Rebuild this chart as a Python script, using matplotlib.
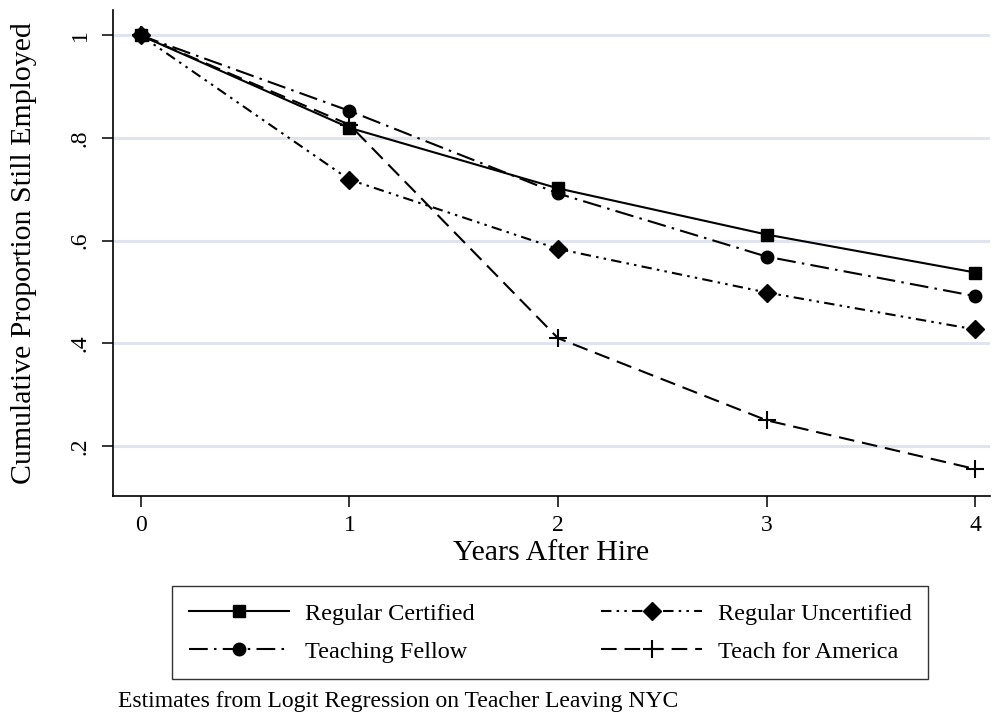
import matplotlib.pyplot as plt

# cumulative retention by pathway into teaching
years = [0, 1, 2, 3, 4]
regular_certified = [1.0, 0.820, 0.702, 0.612, 0.538]
regular_uncertified = [1.0, 0.719, 0.584, 0.499, 0.427]
teaching_fellow = [1.0, 0.853, 0.692, 0.569, 0.492]
teach_for_america = [1.0, 0.826, 0.410, 0.250, 0.155]

y_ticks = [0.2, 0.4, 0.6, 0.8, 1.0]
y_tick_labels = [".2", ".4", ".6", ".8", "1"]

plt.rcParams["font.family"] = ["Liberation Serif", "DejaVu Serif"]

fig = plt.figure(figsize=(9.95, 7.21), dpi=100)
ax = fig.add_axes([0.1136, 0.3121, 0.8814, 0.6741])

for y in y_ticks:
    ax.axhline(y, color="#dfe4ee", lw=2.2, zorder=0)

l_rc, = ax.plot(years, regular_certified, color="black", lw=1.5, ls="-",
                marker="s", ms=9, label="Regular Certified")
l_ru, = ax.plot(years, regular_uncertified, color="black", lw=1.5,
                ls=(0, (5, 2.5, 1.2, 2.5, 1.2, 2.5)),
                marker="D", ms=9, label="Regular Uncertified")
l_tf, = ax.plot(years, teaching_fellow, color="black", lw=1.5,
                ls=(0, (9, 3, 1.2, 3)),
                marker="o", ms=9, label="Teaching Fellow")
l_tfa, = ax.plot(years, teach_for_america, color="black", lw=1.5,
                 ls=(0, (7.5, 3.8)),
                 marker="+", ms=13, mew=1.5, label="Teach for America")

ax.set_xlim(-0.133, 4.071)
ax.set_ylim(0.1025, 1.0497)
ax.set_xticks(years)
ax.set_yticks(y_ticks)
ax.set_yticklabels(y_tick_labels, rotation=90, va="center")
ax.tick_params(labelsize=17, length=8, width=1.1)
ax.tick_params(axis="x", pad=6)
ax.tick_params(axis="y", pad=8)

ax.spines["top"].set_visible(False)
ax.spines["right"].set_visible(False)
for s in ["left", "bottom"]:
    ax.spines[s].set_linewidth(1.2)

ax.set_xlabel("Years After Hire", fontsize=21.5)
ax.set_ylabel("Cumulative Proportion Still Employed", fontsize=21.5)
ax.xaxis.set_label_coords(0.5, -0.090)
ax.yaxis.set_label_coords(-0.087, 0.5)

# legend filled row by row: RC, RU / TF, TFA
leg = fig.legend([l_rc, l_tf, l_ru, l_tfa],
                 [l_rc.get_label(), l_tf.get_label(),
                  l_ru.get_label(), l_tfa.get_label()],
                 loc="upper left", bbox_to_anchor=(172 / 995, 1 - 586 / 721),
                 borderaxespad=0, ncol=2, fontsize=17.5, frameon=True,
                 fancybox=False, edgecolor="black", handlelength=4.15,
                 columnspacing=5.2, borderpad=0.68, labelspacing=0.67,
                 handletextpad=0.65)
leg.get_frame().set_linewidth(1.0)

fig.text(0.1186, 0.0277, "Estimates from Logit Regression on Teacher Leaving NYC",
         fontsize=17, ha="left", va="center")

fig.savefig("out.png", dpi=100)
